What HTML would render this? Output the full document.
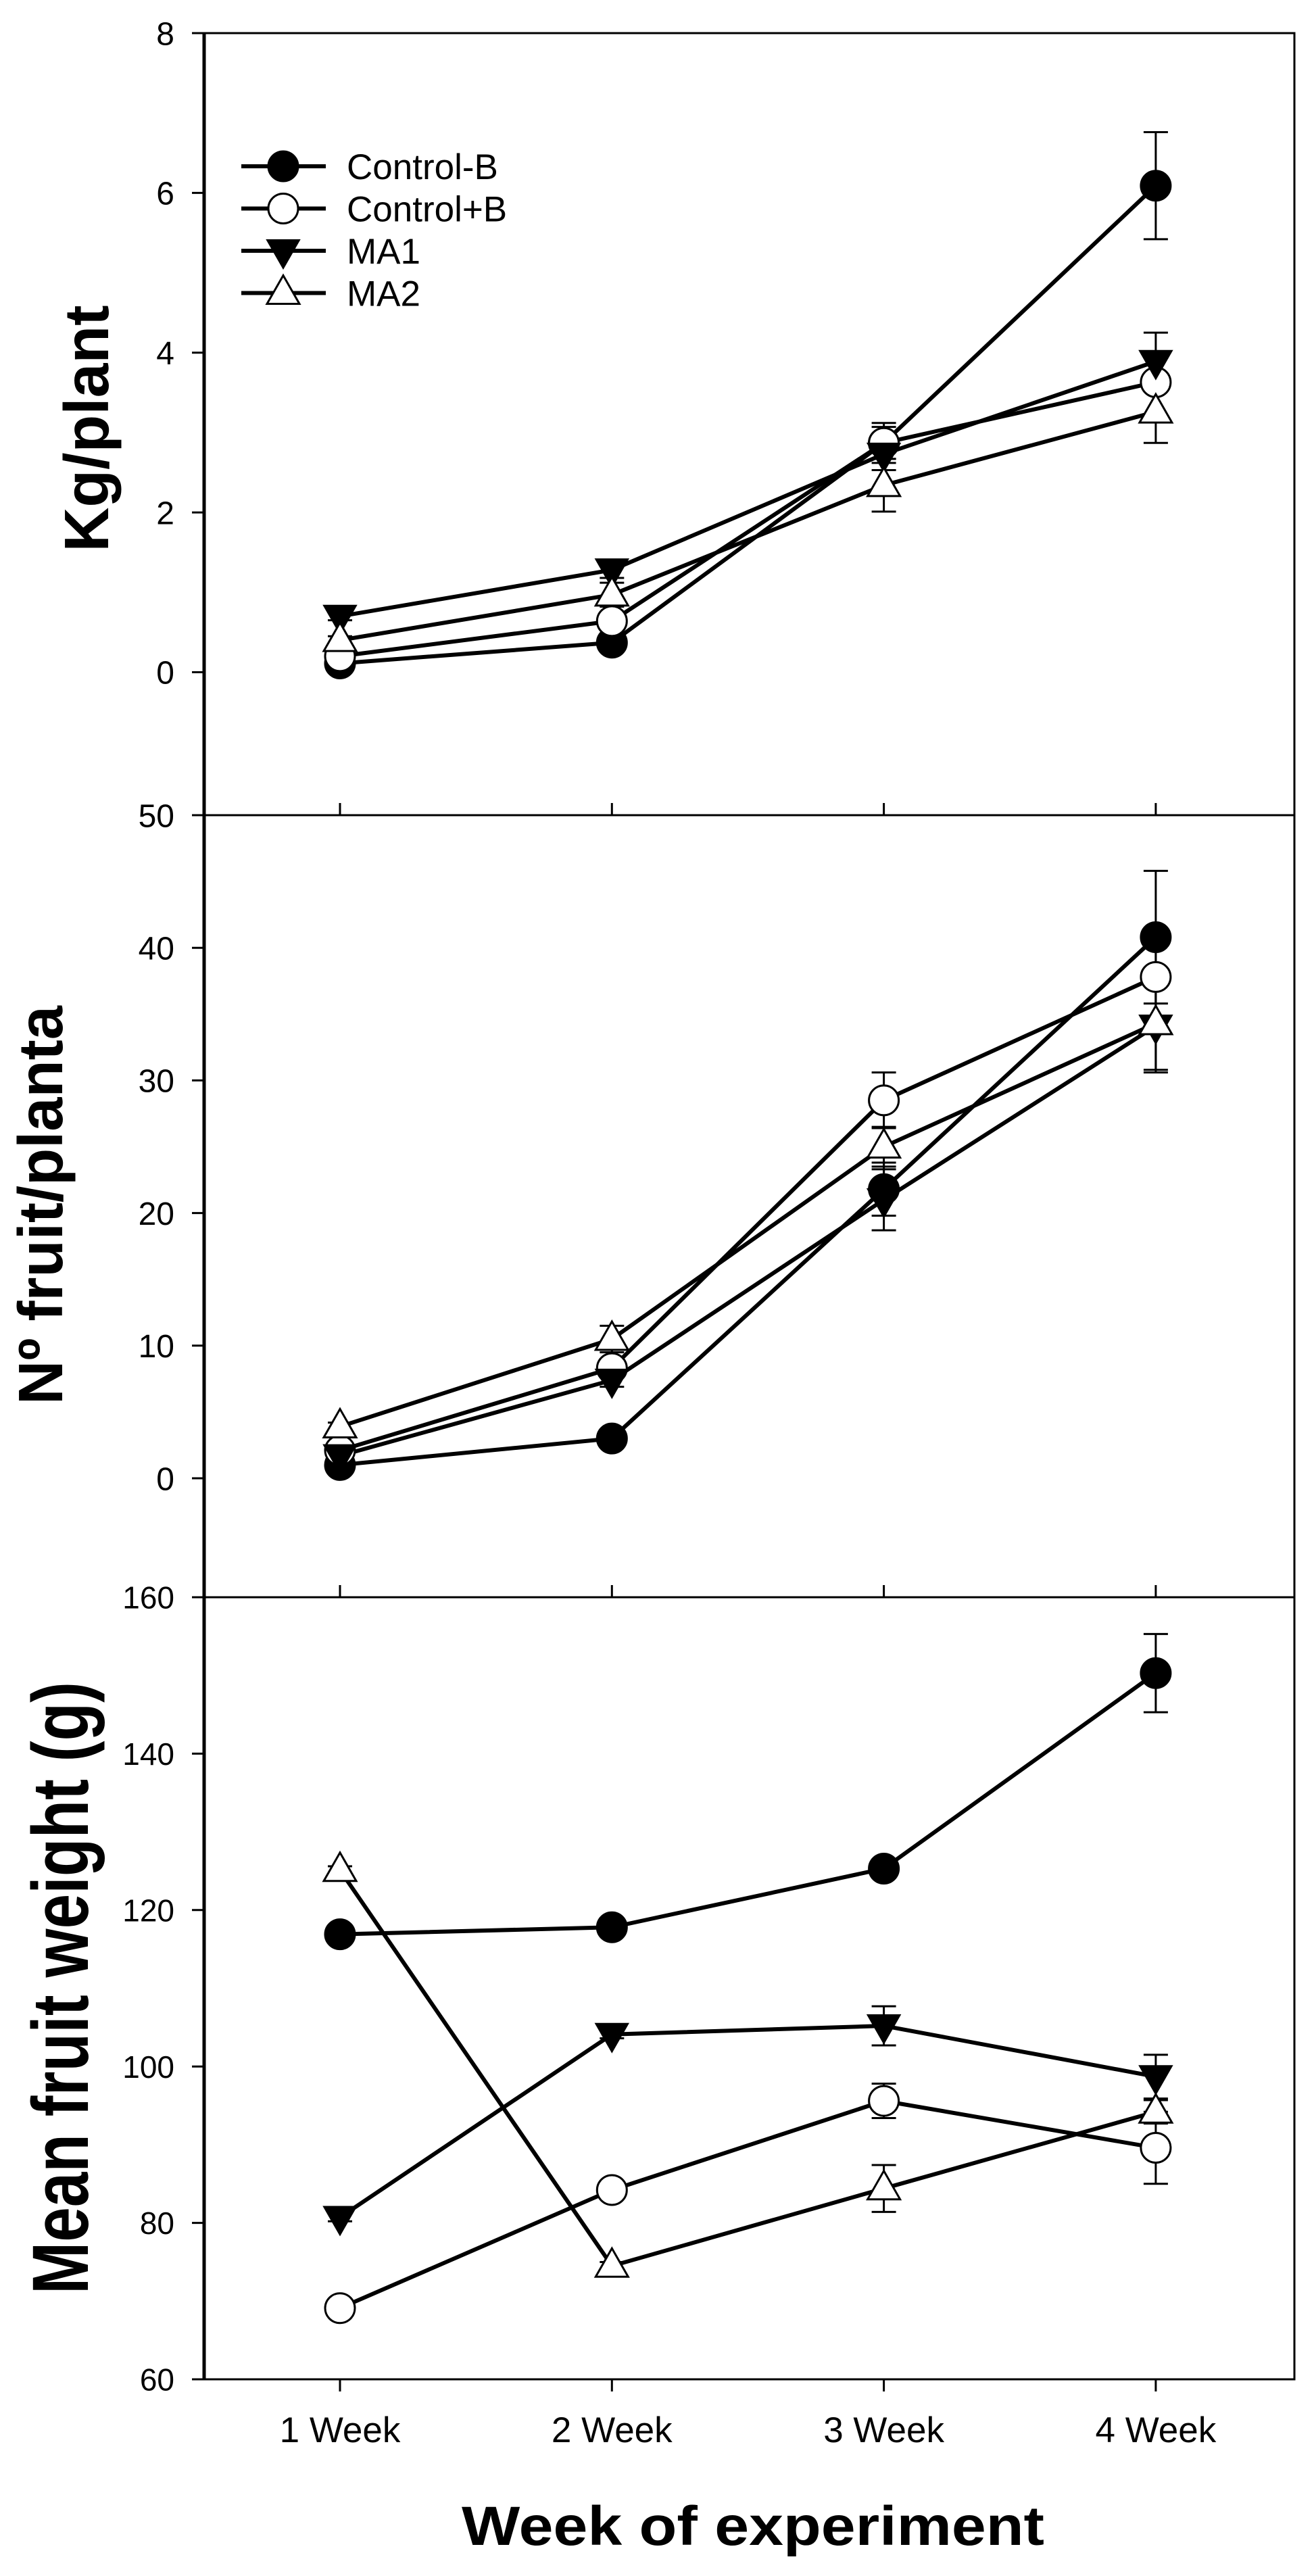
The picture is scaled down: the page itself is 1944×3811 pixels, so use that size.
<!DOCTYPE html>
<html><head><meta charset="utf-8"><style>
html,body{margin:0;padding:0;background:#fff;}
svg{display:block;}
text{font-family:"Liberation Sans",Arial,sans-serif;fill:#000;}
</style></head><body>
<svg id="chart" width="1944" height="3811" viewBox="0 0 1944 3811" xmlns="http://www.w3.org/2000/svg">
<g id="frame"></g>
<g id="series"></g>
<g id="labels"></g>
</svg>
<script>
// ---- data ----
const weeks = ["1 Week","2 Week","3 Week","4 Week"];
const seriesNames = ["Control-B","Control+B","MA1","MA2"];
const seriesMarkers = ["filled-circle","open-circle","filled-down-triangle","open-up-triangle"];

const kgCtrlMinus = [0.11, 0.37, 2.87, 6.09];
const kgCtrlPlus  = [0.20, 0.64, 2.87, 3.63];
const kgMA1       = [0.70, 1.28, 2.73, 3.89];
const kgMA2       = [0.40, 0.97, 2.34, 3.26];
const kgErrCtrlMinus = [0.03, 0.05, 0.25, 0.67];
const kgErrCtrlPlus  = [0.03, 0.05, 0.20, 0.10];
const kgErrMA1       = [0.05, 0.10, 0.20, 0.36];
const kgErrMA2       = [0.05, 0.15, 0.33, 0.39];

const fruitCtrlMinus = [1.0, 3.0, 21.8, 40.8];
const fruitCtrlPlus  = [2.1, 8.3, 28.5, 37.8];
const fruitMA1       = [1.7, 7.4, 21.0, 34.1];
const fruitMA2       = [3.9, 10.5, 25.0, 34.3];
const fruitErrCtrlMinus = [0.2, 0.3, 2.0, 5.0];
const fruitErrCtrlPlus  = [0.2, 0.6, 2.1, 3.0];
const fruitErrMA1       = [0.2, 0.5, 2.3, 3.5];
const fruitErrMA2       = [0.3, 1.0, 1.5, 3.5];

const wCtrlMinus = [116.9, 117.8, 125.3, 150.3];
const wCtrlPlus  = [69.1, 84.2, 95.6, 89.6];
const wMA1       = [80.7, 104.1, 105.2, 98.7];
const wMA2       = [125.1, 74.5, 84.4, 94.2];
const wErrCtrlMinus = [0.5, 0.5, 1.2, 5.0];
const wErrCtrlPlus  = [0.5, 0.5, 2.2, 4.6];
const wErrMA1       = [0.5, 0.5, 2.5, 2.8];
const wErrMA2       = [0.5, 0.5, 3.0, 1.5];

const kgTicks = [0, 2, 4, 6, 8];
const fruitTicks = [0, 10, 20, 30, 40, 50];
const weightTicks = [60, 80, 100, 120, 140, 160];

// ---- layout ----
const NS = "http://www.w3.org/2000/svg";
const X0 = 302, X1 = 1915;
function xScale(i){ return 503 + i * 402.3; }
const panels = [
  {name:"kg", top:49, bottom:1206, vmax:8, vmin:-1.79, ticks:kgTicks, fs:48,
   vals:[kgCtrlMinus,kgCtrlPlus,kgMA1,kgMA2], errs:[kgErrCtrlMinus,kgErrCtrlPlus,kgErrMA1,kgErrMA2]},
  {name:"fruit", top:1206, bottom:2363, vmax:50, vmin:-8.97, ticks:fruitTicks, fs:48,
   vals:[fruitCtrlMinus,fruitCtrlPlus,fruitMA1,fruitMA2], errs:[fruitErrCtrlMinus,fruitErrCtrlPlus,fruitErrMA1,fruitErrMA2]},
  {name:"weight", top:2363, bottom:3520, vmax:160, vmin:60, ticks:weightTicks, fs:46,
   vals:[wCtrlMinus,wCtrlPlus,wMA1,wMA2], errs:[wErrCtrlMinus,wErrCtrlPlus,wErrMA1,wErrMA2]}
];
function yScale(p, v){ return p.top + (p.vmax - v) / (p.vmax - p.vmin) * (p.bottom - p.top); }

function mk(tag, attrs, parent){
  const e = document.createElementNS(NS, tag);
  for (const k in attrs) e.setAttribute(k, attrs[k]);
  parent.appendChild(e);
  return e;
}
const frame = document.getElementById("frame");
const seriesG = document.getElementById("series");
const labels = document.getElementById("labels");

function marker(type, cx, cy, parent){
  let el;
  if (type === "filled-circle" || type === "open-circle"){
    el = mk("circle", {cx:cx, cy:cy, r:22, fill: type==="filled-circle"?"#000":"#fff", stroke:"#000", "stroke-width":3}, parent);
  } else if (type === "filled-down-triangle"){
    el = mk("polygon", {points:`${cx-24},${cy-16} ${cx+24},${cy-16} ${cx},${cy+26}`, fill:"#000", stroke:"#000", "stroke-width":2}, parent);
  } else {
    el = mk("polygon", {points:`${cx-24},${cy+16} ${cx+24},${cy+16} ${cx},${cy-26}`, fill:"#fff", stroke:"#000", "stroke-width":3}, parent);
  }
  return el;
}

panels.forEach((p, pi) => {
  // box
  const box = mk("rect", {x:X0, y:p.top, width:X1-X0, height:p.bottom-p.top, fill:"none", stroke:"#000", "stroke-width":3}, frame);
  
  
  const ax = mk("line", {x1:X0, y1:p.top, x2:X0, y2:p.bottom, stroke:"#000", "stroke-width":5}, frame);
  
  
  // y ticks
  p.ticks.forEach(t => {
    const y = yScale(p, t);
    const tk = mk("line", {x1:X0-18, y1:y, x2:X0, y2:y, stroke:"#000", "stroke-width":3}, frame);
    
    
    const tl = mk("text", {x:X0-44, y:y+p.fs*0.36, "text-anchor":"end", "font-size":p.fs}, labels);
    tl.textContent = String(t);
    
    
  });
  // x ticks
  weeks.forEach((w, i) => {
    const x = xScale(i);
    if (pi > 0){
      const tk = mk("line", {x1:x, y1:p.top-18, x2:x, y2:p.top, stroke:"#000", "stroke-width":3}, frame);
      
      
    }
    if (pi === 2){
      const tk = mk("line", {x1:x, y1:p.bottom, x2:x, y2:p.bottom+18, stroke:"#000", "stroke-width":3}, frame);
      
      
      const tl = mk("text", {x:x, y:3613, "text-anchor":"middle", "font-size":53}, labels);
      tl.textContent = w;
      
      
    }
  });
  // series
  p.vals.forEach((vals, si) => {
    const pts = vals.map((v, i) => `${xScale(i)},${yScale(p, v)}`).join(" ");
    const pl = mk("polyline", {points:pts, fill:"none", stroke:"#000", "stroke-width":6, "stroke-linejoin":"round"}, seriesG);
    
    
  });
  p.vals.forEach((vals, si) => {
    vals.forEach((v, i) => {
      const e = p.errs[si][i], x = xScale(i);
      const yt = yScale(p, v + e), yb = yScale(p, v - e);
      const eb = mk("path", {d:`M${x},${yt}V${yb}M${x-18},${yt}H${x+18}M${x-18},${yb}H${x+18}`, stroke:"#000", "stroke-width":3, fill:"none"}, seriesG);
      
      
    });
  });
  p.vals.forEach((vals, si) => {
    vals.forEach((v, i) => {
      const m = marker(seriesMarkers[si], xScale(i), yScale(p, v), seriesG);
      
      
    });
  });
});

// legend
seriesNames.forEach((n, i) => {
  const y = 246 + i * 62.5;
  const g = mk("g", {}, labels);
  
  
  mk("line", {x1:357, y1:y, x2:482, y2:y, stroke:"#000", "stroke-width":6}, g);
  marker(seriesMarkers[i], 419, y, g);
  const t = mk("text", {x:513, y:y+19, "font-size":53}, g);
  t.textContent = n;
});
</script>
<svg width="0" height="0" style="position:absolute"></svg>
<div style="position:absolute;left:0;top:0;width:1944px;height:3811px;pointer-events:none;">
<svg width="1944" height="3811" viewBox="0 0 1944 3811" xmlns="http://www.w3.org/2000/svg" style="position:absolute;left:0;top:0">
  <text transform="translate(160,634) rotate(-90)" text-anchor="middle" font-size="93" font-weight="bold" textLength="365" lengthAdjust="spacingAndGlyphs" style="font-family:'Liberation Sans',Arial,sans-serif">Kg/plant</text>
  <text transform="translate(92,1783) rotate(-90)" text-anchor="middle" font-size="93" font-weight="bold" textLength="590" lengthAdjust="spacingAndGlyphs" style="font-family:'Liberation Sans',Arial,sans-serif">Nº fruit/planta</text>
  <text transform="translate(130,2941) rotate(-90)" text-anchor="middle" font-size="118" font-weight="bold" textLength="906" lengthAdjust="spacingAndGlyphs" style="font-family:'Liberation Sans',Arial,sans-serif">Mean fruit weight  (g)</text>
  <text x="1114" y="3765" text-anchor="middle" font-size="82" font-weight="bold" textLength="862" lengthAdjust="spacingAndGlyphs" style="font-family:'Liberation Sans',Arial,sans-serif">Week of experiment</text>
</svg>
</div>
</body></html>
